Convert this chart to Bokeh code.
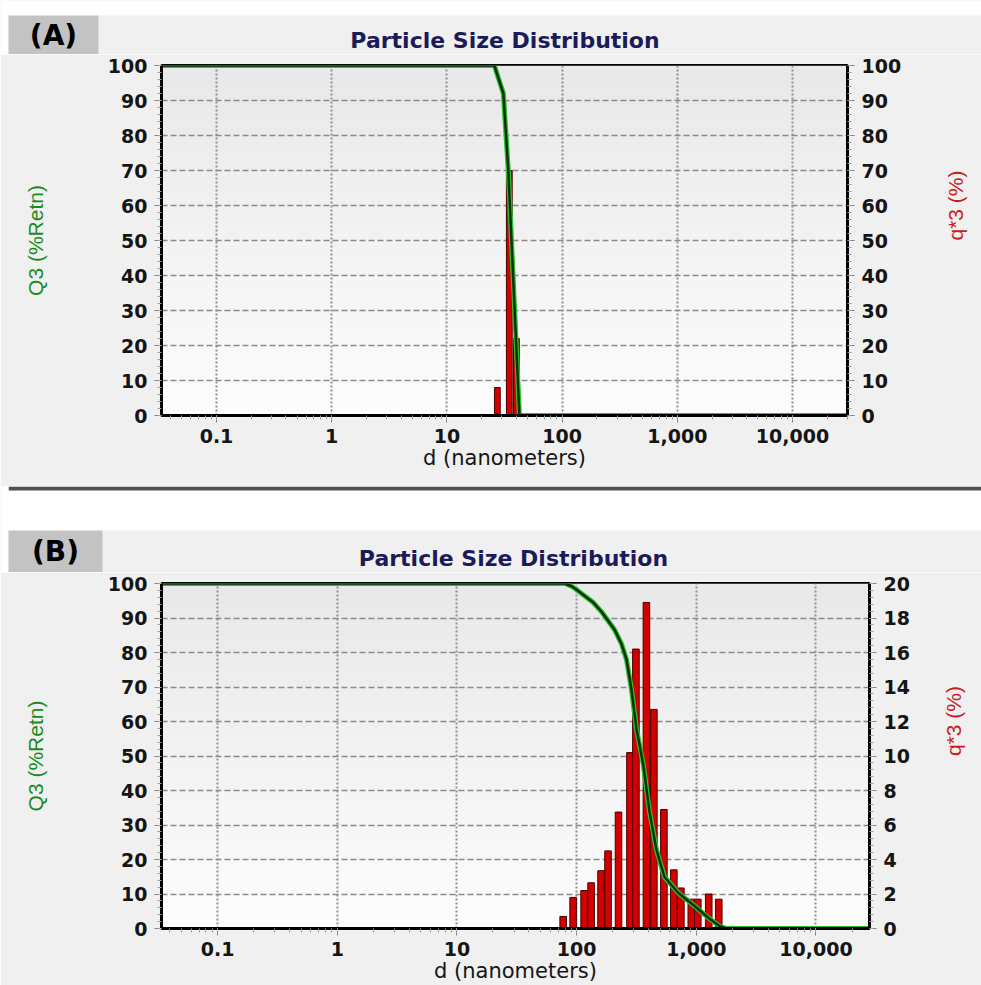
import math
import numpy as np
from bokeh.plotting import figure
from bokeh.layouts import column, row
from bokeh.models import (Range1d, LinearAxis, LogTicker, SingleIntervalTicker,
                          FixedTicker, NumeralTickFormatter)
from bokeh.core.properties import value
from bokeh.embed import file_html
from bokeh.resources import INLINE

# ---- Sample A: narrow distribution (bin centres in nm, q*3 in %) ----
a_size_nm = [27.4, 34.8, 40.1]
a_q3_density = [8, 70, 22]
# cumulative retained curve Q3 (%)
a_curve_nm = [0.0333, 25.8, 30.9, 34.1, 42.6, 30000]
a_curve_q3 = [100, 100, 92, 70, 0, 0]

# ---- Sample B: broad distribution ----
b_size_nm = [77.2, 93.5, 115.5, 132.1, 160, 183, 223.9, 279, 313, 383,
             442, 536, 649, 743, 908, 1029, 1270, 1540]
b_q3_density = [0.7, 1.8, 2.2, 2.65, 3.35, 4.5, 6.75, 10.2, 16.2, 18.9,
                12.7, 6.9, 3.4, 2.35, 1.7, 1.7, 2.0, 1.7]
b_curve_nm = [0.034, 79.4, 90.9, 100, 138.6, 161.6, 188.4, 207.5, 237.1, 261,
              287, 316, 361, 406, 464, 541, 708, 962, 1259, 1549, 1778, 28000]
b_curve_q3 = [100, 100, 99.2, 98.2, 94.4, 91.8, 88.6, 86.6, 82.5, 78,
              69.4, 58, 47.4, 34, 22.9, 15, 10.3, 6.6, 3.1, 0.8, 0, 0]

TITLE = "Particle Size Distribution"
X_LABEL = "d (nanometers)"
LEFT_LABEL = "Q3 (%Retn)"
RIGHT_LABEL = "q*3 (%)"

PAGE_W = 981
FONT = "DejaVu Sans"
LABEL_FONT = "Liberation Sans"
PANEL_GRAY = "#f0f0f0"
TAG_GRAY = "#c3c3c3"


def free_frame(f):
    """Keep each canvas' plot frame independent of its neighbours."""
    try:
        f.frame_align = False
    except AttributeError:
        pass
    return f


def gradient(top_rgb, bottom_rgb, n=64):
    t = np.linspace(0, 1, n)[:, None]           # row 0 = bottom
    top = np.array(top_rgb)[None, :]
    bot = np.array(bottom_rgb)[None, :]
    rgb = (bot * (1 - t) + top * t).astype(np.uint32)
    img = (255 << 24) | (rgb[:, 2] << 16) | (rgb[:, 1] << 8) | rgb[:, 0]
    return img.reshape(n, 1).astype(np.uint32)


def header(h):
    """Full-width pixel-space strip carrying the panel tag, title and rules."""
    f = figure(width=PAGE_W, height=h, x_range=Range1d(0, PAGE_W),
               y_range=Range1d(h, 0), x_axis_location=None, y_axis_location=None,
               tools="", toolbar_location=None, output_backend="svg", min_border=0,
               background_fill_color=PANEL_GRAY, border_fill_color=PANEL_GRAY,
               outline_line_color=None)
    for g in f.grid:
        g.visible = False
    return free_frame(f)


def box(f, l, r, t, b, color):
    f.quad(left=[l], right=[r], top=[t], bottom=[b], fill_color=color,
           line_color=None)


def text(f, x, y, s, size, color, style="normal"):
    f.text(x=[x], y=[y], text=[s], text_font=value(FONT),
           text_font_style=style, text_font_size=size, text_color=color,
           text_align="center", text_baseline="middle")


def style_axis(ax):
    ax.axis_line_color = "black"
    ax.axis_line_width = 3
    ax.major_tick_line_color = "#808080"
    ax.minor_tick_line_color = "#a0a0a0"
    ax.major_tick_in = 0
    ax.major_tick_out = 7
    ax.minor_tick_in = 0
    ax.minor_tick_out = 4
    ax.major_label_standoff = 7
    ax.major_label_text_font = FONT
    ax.major_label_text_font_style = "bold"
    ax.major_label_text_font_size = "19px"
    ax.major_label_text_color = "#151515"


def chart(h, b_right, b_top, b_bottom, x_lo, x_hi, q_hi, q_step,
          sizes, dens, cx, cy, bar_w, right_label_gap):
    p = figure(width=PAGE_W, height=h, x_axis_type="log", title=None,
               x_range=Range1d(x_lo, x_hi), y_range=Range1d(0, 100),
               output_backend="svg", tools="", toolbar_location=None,
               min_border_left=161, min_border_right=b_right,
               min_border_top=b_top, min_border_bottom=b_bottom,
               background_fill_color="#f6f6f6", border_fill_color=PANEL_GRAY)
    free_frame(p)
    p.extra_y_ranges = {"q": Range1d(0, q_hi)}
    p.outline_line_color = "black"
    p.outline_line_width = 3

    # soft vertical shading inside the plot frame
    p.image_rgba(image=[gradient((233, 233, 233), (253, 253, 253))],
                 x=x_lo, y=0, dw=x_hi - x_lo, dh=100, level="image")

    p.xgrid.grid_line_color = "#8e8e9c"
    p.xgrid.grid_line_dash = "2 2"
    p.xgrid.grid_line_width = 2
    p.ygrid.grid_line_color = "#8a8a8a"
    p.ygrid.grid_line_dash = "6 3"
    p.ygrid.grid_line_width = 1.5

    xa = p.xaxis[0]
    xa.ticker = LogTicker(desired_num_ticks=6, num_minor_ticks=10)
    xa.formatter = NumeralTickFormatter(format="0,0.[0]")
    style_axis(xa)
    xa.major_label_standoff = 6
    xa.axis_label = X_LABEL
    xa.axis_label_text_font = FONT
    xa.axis_label_text_font_style = "normal"
    xa.axis_label_text_font_size = "21px"
    xa.axis_label_text_color = "#151515"
    xa.axis_label_standoff = 0

    # left: cumulative Q3
    ya = p.yaxis[0]
    ya.ticker = SingleIntervalTicker(interval=10, num_minor_ticks=5)
    style_axis(ya)
    ya.axis_label = LEFT_LABEL
    ya.axis_label_text_font = LABEL_FONT
    ya.axis_label_text_font_style = "normal"
    ya.axis_label_text_font_size = "21px"
    ya.axis_label_text_color = "#1a8a1a"
    ya.axis_label_standoff = 58

    # right: density q*3
    ra = LinearAxis(y_range_name="q",
                    ticker=SingleIntervalTicker(interval=q_step, num_minor_ticks=5))
    style_axis(ra)
    p.add_layout(ra, "right")

    # right-hand title, set as a single rotated label reading upwards
    rt = LinearAxis(ticker=FixedTicker(ticks=[50]),
                    major_label_overrides={50: RIGHT_LABEL})
    rt.axis_line_color = None
    rt.major_tick_line_color = None
    rt.minor_tick_line_color = None
    rt.major_tick_out = 0
    rt.major_label_orientation = math.pi / 2
    rt.major_label_standoff = right_label_gap
    rt.major_label_text_font = LABEL_FONT
    rt.major_label_text_font_size = "21px"
    rt.major_label_text_color = "#cc1a1a"
    p.add_layout(rt, "right")

    # histogram bars: equal log-width bins around each centre
    s = np.array(sizes, dtype=float)
    half = 10 ** (bar_w / 2)
    p.quad(left=s / half, right=s * half, bottom=0, top=dens,
           y_range_name="q", fill_color="#d40000", line_color="#4a0000",
           line_width=1)

    # cumulative curve drawn over the bars
    p.line(cx, cy, line_color="#2bc02b", line_width=5)
    p.line(cx, cy, line_color="#0d300d", line_width=2.5)
    return p


# ---------------- panel A (page rows 0..486) ----------------
ha = header(54)
box(ha, 0, PAGE_W, 0, 15, "white")
box(ha, 0, 8, 0, 54, "white")
box(ha, 8, 98, 15, 54, TAG_GRAY)
text(ha, 53, 35, "(A)", "28px", "black", style="bold")
text(ha, 504.5, 39.5, TITLE, "22px", "#1b1b5a", style="bold")

ma = chart(432, 133, 11, 71, 0.0333, 30000, 100, 10,
           a_size_nm, a_q3_density, a_curve_nm, a_curve_q3, 0.05, 51)

# ---------------- panel B (page rows 486..985) ----------------
hb = header(86)
box(hb, 0, PAGE_W, 0, 44, "white")
box(hb, 8, PAGE_W, 0, 4, "#505050")
box(hb, 0, 8, 0, 86, "white")
box(hb, 8, 102, 44, 86, TAG_GRAY)
text(hb, 55, 65, "(B)", "28px", "black", style="bold")
text(hb, 513, 72, TITLE, "22px", "#1b1b5a", style="bold")

mb = chart(413, 112, 11, 52, 0.034, 28000, 20, 2,
           b_size_nm, b_q3_density, b_curve_nm, b_curve_q3, 0.055, 41)

# each canvas sits in its own row so frames are laid out independently
page = column(row(ha), row(ma), row(hb), row(mb))
html = file_html(page, INLINE)
# page background matches the panel colour
html = html.replace("<body>", '<body style="margin:0;background-color:%s">' % PANEL_GRAY, 1)
open("out.html", "w").write(html)
